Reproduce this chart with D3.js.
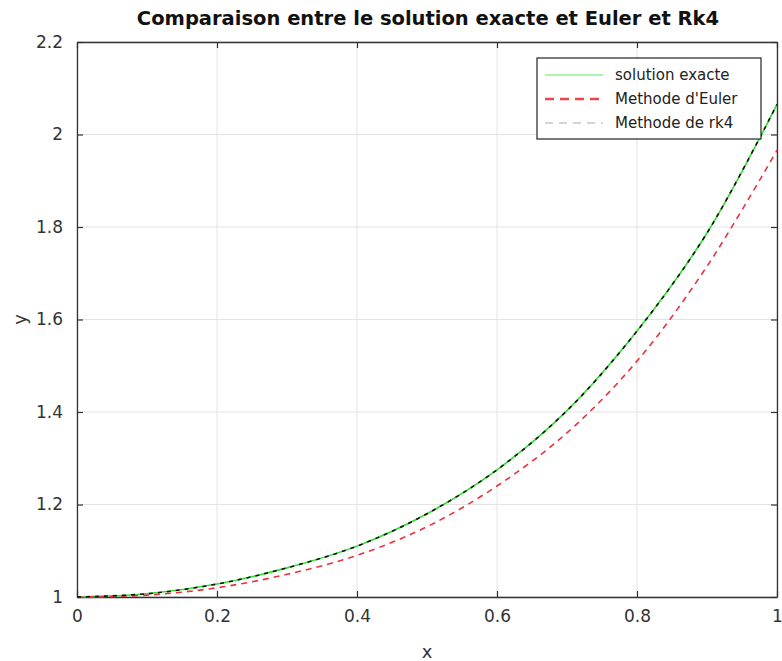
<!DOCTYPE html>
<html>
<head>
<meta charset="utf-8">
<script src="https://cdn.jsdelivr.net/npm/d3@7"></script>
<style>
  body { margin: 0; background: #fff; }
  text { font-family: "DejaVu Sans", sans-serif; }
</style>
</head>
<body>
<script>
// values
var xs       = [0, 0.1, 0.2, 0.3, 0.4, 0.5, 0.6, 0.7, 0.8, 0.9, 1.0];
var exacte   = [1.000, 1.007, 1.028, 1.063, 1.110, 1.180, 1.275, 1.403, 1.575, 1.787, 2.065];
var euler    = [1.000, 1.004, 1.020, 1.049, 1.090, 1.152, 1.240, 1.355, 1.510, 1.715, 1.966];
var rk4      = [1.000, 1.007, 1.028, 1.063, 1.110, 1.180, 1.275, 1.403, 1.575, 1.787, 2.065];
var xTicks   = [0, 0.2, 0.4, 0.6, 0.8, 1];
var yTicks   = [1, 1.2, 1.4, 1.6, 1.8, 2, 2.2];
var legendLabels = ["solution exacte", "Methode d'Euler", "Methode de rk4"];

var width = 782, height = 661;
var margin = {top: 42, right: 5, bottom: 64, left: 77};
var w = width - margin.left - margin.right;
var h = height - margin.top - margin.bottom;

var svg = d3.select("body").append("svg")
  .attr("width", width)
  .attr("height", height);

var g = svg.append("g")
  .attr("transform", "translate(" + margin.left + "," + margin.top + ")");

var x = d3.scaleLinear().domain([0, 1]).range([0, w]);
var y = d3.scaleLinear().domain([1, 2.2]).range([h, 0]);

// grid
g.selectAll(".gx").data(xTicks).enter().append("line")
  .attr("x1", d => x(d)).attr("x2", d => x(d))
  .attr("y1", 0).attr("y2", h)
  .attr("stroke", "#e3e3e3").attr("stroke-width", 1);
g.selectAll(".gy").data(yTicks).enter().append("line")
  .attr("y1", d => y(d)).attr("y2", d => y(d))
  .attr("x1", 0).attr("x2", w)
  .attr("stroke", "#e3e3e3").attr("stroke-width", 1);

// axes (ticks inside, box all round)
var xAxis = g.append("g").attr("transform", "translate(0," + h + ")")
  .call(d3.axisBottom(x).tickValues(xTicks).tickSizeInner(-6).tickSizeOuter(0).tickPadding(13)
    .tickFormat(d3.format("")));
var xTop = g.append("g")
  .call(d3.axisTop(x).tickValues(xTicks).tickSizeInner(-6).tickSizeOuter(0).tickFormat(""));
var yAxis = g.append("g")
  .call(d3.axisLeft(y).tickValues(yTicks).tickSizeInner(-6).tickSizeOuter(0).tickPadding(14)
    .tickFormat(d3.format("")));
var yRight = g.append("g").attr("transform", "translate(" + w + ",0)")
  .call(d3.axisRight(y).tickValues(yTicks).tickSizeInner(-6).tickSizeOuter(0).tickFormat(""));

[xAxis, xTop, yAxis, yRight].forEach(function(a) {
  a.select(".domain").attr("stroke", "#333").attr("stroke-width", 1.3);
  a.selectAll(".tick line").attr("stroke", "#333").attr("stroke-width", 1.2);
  a.selectAll(".tick text").attr("fill", "#333")
    .style("font-family", "'DejaVu Sans', sans-serif").style("font-size", "17px");
});

// curves
var pts = function(vals) { return xs.map(function(d, i) { return [d, vals[i]]; }); };
var line = d3.line().x(d => x(d[0])).y(d => y(d[1])).curve(d3.curveCatmullRom);

g.append("path").datum(pts(exacte))
  .attr("d", line).attr("fill", "none")
  .attr("stroke", "#2ee02e").attr("stroke-width", 1.6);
g.append("path").datum(pts(euler))
  .attr("d", line).attr("fill", "none")
  .attr("stroke", "#e8333f").attr("stroke-width", 1.6)
  .attr("stroke-dasharray", "6,5");
g.append("path").datum(pts(rk4))
  .attr("d", line).attr("fill", "none")
  .attr("stroke", "#111").attr("stroke-width", 1.6)
  .attr("stroke-dasharray", "4,5");

// title and labels
svg.append("text")
  .attr("x", margin.left + w / 2 + 1).attr("y", 25)
  .attr("text-anchor", "middle")
  .style("font-size", "19.5px").style("font-weight", "bold").attr("fill", "#111")
  .text("Comparaison entre le solution exacte et Euler et Rk4");
svg.append("text")
  .attr("x", margin.left + w / 2).attr("y", 658)
  .attr("text-anchor", "middle").style("font-size", "18px").attr("fill", "#333")
  .text("x");
svg.append("text")
  .attr("transform", "translate(26," + (margin.top + h / 2) + ") rotate(-90)")
  .attr("text-anchor", "middle").style("font-size", "18px").attr("fill", "#333")
  .text("y");

// legend
var leg = svg.append("g").attr("transform", "translate(537,58)");
leg.append("rect").attr("width", 224).attr("height", 81)
  .attr("fill", "#fff").attr("stroke", "#222").attr("stroke-width", 1.2);
var legStyle = [
  {stroke: "#5ee85e", width: 1.2, dash: null},
  {stroke: "#f0444c", width: 2.4, dash: "9,6"},
  {stroke: "#aaa", width: 1.2, dash: "8,6"}
];
legendLabels.forEach(function(lbl, i) {
  var yy = 17 + i * 24;
  leg.append("line").attr("x1", 8).attr("x2", 66).attr("y1", yy).attr("y2", yy)
    .attr("stroke", legStyle[i].stroke).attr("stroke-width", legStyle[i].width)
    .attr("stroke-dasharray", legStyle[i].dash);
  leg.append("text").attr("x", 78).attr("y", yy + 5)
    .style("font-size", "15px").attr("fill", "#222").text(lbl);
});
</script>
</body>
</html>
